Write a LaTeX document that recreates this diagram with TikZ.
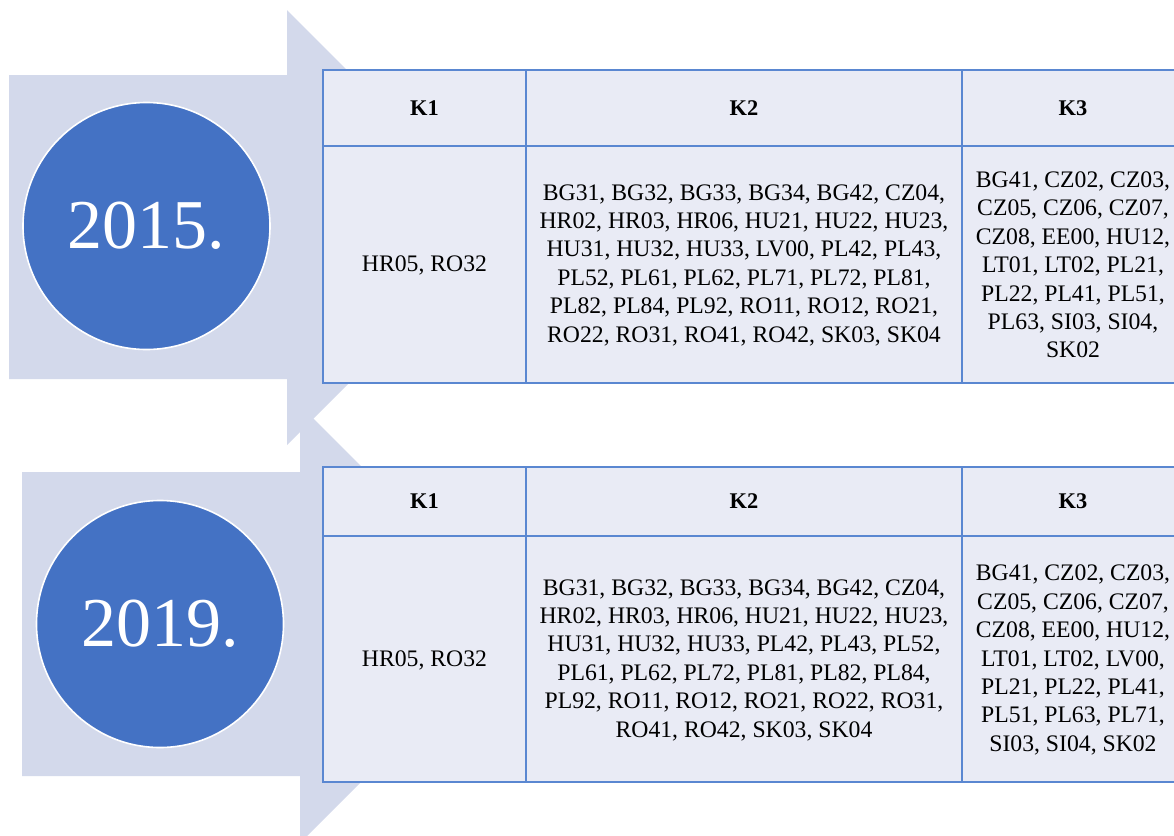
\documentclass[tikz,border=0pt]{standalone}
\usepackage{fontspec}
\setmainfont{Liberation Serif}
\definecolor{arrowfill}{HTML}{D3D9EB}
\definecolor{yearblue}{HTML}{4472C4}
\definecolor{cellfill}{HTML}{E9EBF5}
\definecolor{gridline}{HTML}{5A87D1}
\tikzset{
	cell/.style={align=center, inner sep=0pt, font=\fontsize{11.85}{14.2}\selectfont},
	head/.style={inner sep=0pt, font=\fontsize{11.2}{13}\selectfont\bfseries},
	year/.style={circle, fill=yearblue, draw=white, line width=0.8pt, minimum size=123.5pt, inner sep=0pt, text=white, font=\fontsize{35}{40}\selectfont},
	grid/.style={draw=gridline, line width=1pt}
}

\begin{document}
\begin{tikzpicture}[x=0.5pt, y=-0.5pt]
		%%%%% START %%%%%
		\useasboundingbox (0, 0) rectangle (1174, 836);
		\clip (0, 0) rectangle (1174, 836);
		
		% arrows
		\fill[arrowfill] (9, 75) -- (287, 75) -- (287, 10) -- (504.5, 227.5) -- (287, 445) -- (287, 379) -- (9, 379) -- cycle;
		\fill[arrowfill] (22, 472) -- (300, 472) -- (300, 405) -- (519, 624) -- (300, 843) -- (300, 776) -- (22, 776) -- cycle;
		
		\node[year] (y15) at (146.5, 226) {2015.};
		\node[year] (y19) at (160, 624) {2019.};
		
		% 2015 table
		\draw[grid, fill=cellfill] (323, 70) rectangle (1184, 383);
		\draw[grid] (323, 146) -- (1184, 146);
		\draw[grid] (526, 70) -- (526, 383);
		\draw[grid] (962, 70) -- (962, 383);
		
		\node[head] (h15a) at (424.5, 108) {K1};
		\node[head] (h15b) at (744, 108) {K2};
		\node[head] (h15c) at (1073, 108) {K3};
		
		\node[cell] (c15a) at (424.5, 265) {HR05, RO32};
		\node[cell] (c15b) at (744, 265) {BG31, BG32, BG33, BG34, BG42, CZ04,\\HR02, HR03, HR06, HU21, HU22, HU23,\\HU31, HU32, HU33, LV00, PL42, PL43,\\PL52, PL61, PL62, PL71, PL72, PL81,\\PL82, PL84, PL92, RO11, RO12, RO21,\\RO22, RO31, RO41, RO42, SK03, SK04};
		\node[cell] (c15c) at (1073, 265) {BG41, CZ02, CZ03,\\CZ05, CZ06, CZ07,\\CZ08, EE00, HU12,\\LT01, LT02, PL21,\\PL22, PL41, PL51,\\PL63, SI03, SI04,\\SK02};
		
		% 2019 table
		\draw[grid, fill=cellfill] (323, 467) rectangle (1184, 782);
		\draw[grid] (323, 536) -- (1184, 536);
		\draw[grid] (526, 467) -- (526, 782);
		\draw[grid] (962, 467) -- (962, 782);
		
		\node[head] (h19a) at (424.5, 501.5) {K1};
		\node[head] (h19b) at (744, 501.5) {K2};
		\node[head] (h19c) at (1073, 501.5) {K3};
		
		\node[cell] (c19a) at (424.5, 660) {HR05, RO32};
		\node[cell] (c19b) at (744, 660) {BG31, BG32, BG33, BG34, BG42, CZ04,\\HR02, HR03, HR06, HU21, HU22, HU23,\\HU31, HU32, HU33, PL42, PL43, PL52,\\PL61, PL62, PL72, PL81, PL82, PL84,\\PL92, RO11, RO12, RO21, RO22, RO31,\\RO41, RO42, SK03, SK04};
		\node[cell] (c19c) at (1073, 660) {BG41, CZ02, CZ03,\\CZ05, CZ06, CZ07,\\CZ08, EE00, HU12,\\LT01, LT02, LV00,\\PL21, PL22, PL41,\\PL51, PL63, PL71,\\SI03, SI04, SK02};
		
		%%%%% END %%%%%
	\end{tikzpicture}
\end{document}
